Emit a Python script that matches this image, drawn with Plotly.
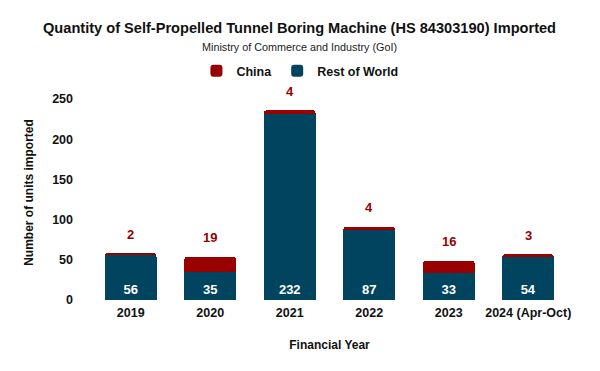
import plotly.graph_objects as go

years = ["2019", "2020", "2021", "2022", "2023", "2024 (Apr-Oct)"]
rest_of_world = [56, 35, 232, 87, 33, 54]
china = [2, 19, 4, 4, 16, 3]

RED = "#990000"
BLUE = "#01445f"
FONT = "Liberation Sans, Arial, sans-serif"

fig = go.Figure()
fig.add_trace(go.Bar(
    x=years, y=rest_of_world, name="Rest of World",
    marker=dict(color=BLUE, line=dict(width=0)),
    text=[str(v) for v in rest_of_world], textposition="inside",
    insidetextanchor="start", textangle=0,
    textfont=dict(color="white", size=13, family=FONT, weight="bold"),
))
fig.add_trace(go.Bar(
    x=years, y=china, name="China",
    marker=dict(color=RED, line=dict(width=0)),
    textposition="none",
))

totals = [a + b for a, b in zip(rest_of_world, china)]
for i, (tot, c) in enumerate(zip(totals, china)):
    fig.add_annotation(x=i, y=tot, text=f"<b>{c}</b>", showarrow=False,
                       yshift=19, font=dict(color=RED, size=13, family=FONT),
                       xref="x", yref="y")

CX = 0.438
fig.add_annotation(x=CX, y=1.266, xref="paper", yref="paper", xanchor="center",
                   yanchor="middle",
                   text="<b>Quantity of Self-Propelled Tunnel Boring Machine (HS 84303190) Imported</b>",
                   showarrow=False, font=dict(size=14.6, color="#111", family=FONT))
fig.add_annotation(x=CX, y=1.178, xref="paper", yref="paper", xanchor="center",
                   yanchor="middle",
                   text="Ministry of Commerce and Industry (GoI)",
                   showarrow=False, font=dict(size=10.8, color="#222", family=FONT))

fig.update_layout(
    width=600, height=371,
    barmode="stack", bargap=0.35, barcornerradius=3,
    plot_bgcolor="white", paper_bgcolor="white",
    font=dict(family=FONT, color="#111"),
    margin=dict(l=83, r=40, t=77, b=79),
    legend=dict(orientation="h", x=CX, xanchor="center", y=1.065, yanchor="middle",
                traceorder="reversed", font=dict(size=12.5, family=FONT, weight="bold"),
                itemwidth=30),
    showlegend=True,
    xaxis=dict(type="category", range=[-0.5, 5.5], automargin=False,
               title=dict(text="<b>Financial Year</b>", font=dict(size=12), standoff=22),
               tickfont=dict(size=12.5, weight="bold", color="#111"),
               ticklabelstandoff=3,
               showline=False, showgrid=False, ticks=""),
    yaxis=dict(title=dict(text="<b>Number of units imported</b>", font=dict(size=12), standoff=15),
               range=[0, 267.5], tickvals=[0, 50, 100, 150, 200, 250], automargin=False,
               tickfont=dict(size=12.5, weight="bold", color="#111"),
               ticklabelstandoff=17,
               showgrid=False, zeroline=False, showline=False, ticks=""),
)

fig.write_html("out.html")
